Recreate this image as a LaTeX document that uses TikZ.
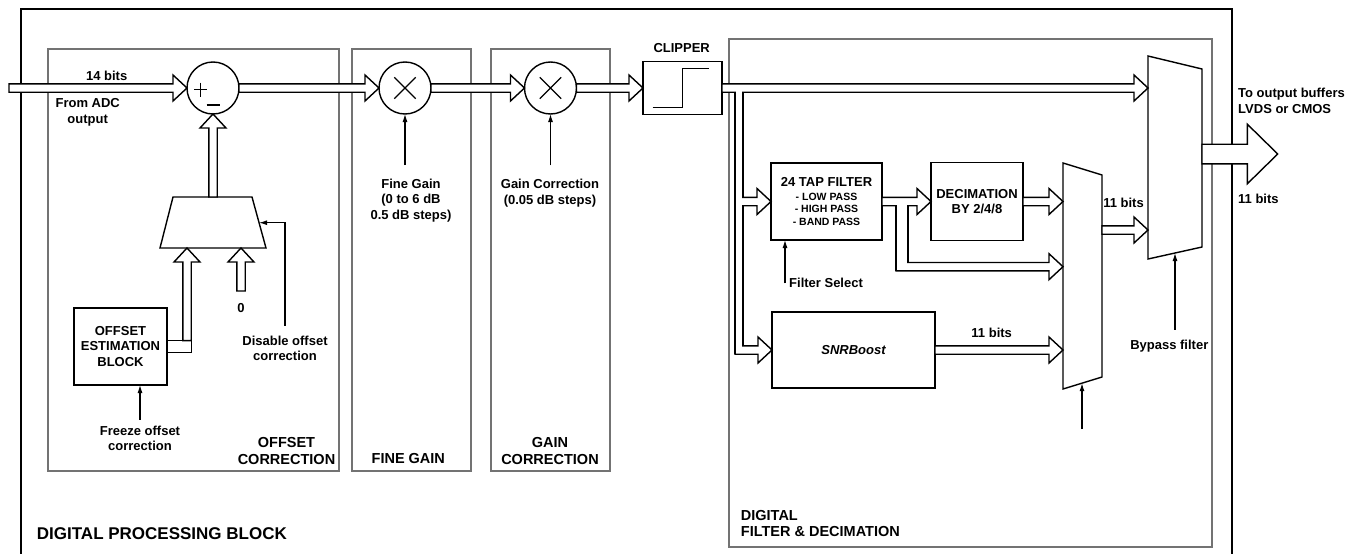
\documentclass[tikz,border=0pt]{standalone}
\usepackage{fontspec}
\setmainfont{Liberation Sans}
\usetikzlibrary{arrows.meta,calc}

\begin{document}
\begin{tikzpicture}
[x=1pt,y=-1pt,
  summerdecorate/.style={shape=circle,draw,line width=1.4pt,fill=white,minimum size=52pt,inner sep=0pt,outer sep=0pt},%
  boxdecorate/.style={shape=rectangle,draw,line width=1.4pt,fill=white,inner sep=0pt,outer sep=0pt,align=center,font=\fontsize{13}{15.5}\selectfont\bfseries},%
  sectiondecorate/.style={draw=black!55,line width=1.3pt},%
  textdecorate/.style={align=center,inner sep=3pt,font=\fontsize{13}{15.5}\selectfont\bfseries},%
  titledecorate/.style={align=center,inner sep=0pt,font=\fontsize{14.5}{17.5}\selectfont\bfseries},%
  controldecorate/.style={-{Latex[length=8pt,width=5pt]},line width=1.1pt},%
  busdecorate/.style={line width=1.4pt},%
  fatright/.style={draw,fill=white,line width=1.4pt,to path={let \p1=(\tikztostart), \p2=(\tikztotarget) in
    (\x1,\y2+4.2pt) -- (\x2-14pt,\y2+4.2pt) -- (\x2-14pt,\y2+13pt) -- (\x2,\y2)
    -- (\x2-14pt,\y2-13pt) -- (\x2-14pt,\y2-4.2pt) -- (\x1,\y2-4.2pt) -- cycle}},%
  fatup/.style={draw,fill=white,line width=1.4pt,to path={let \p1=(\tikztostart), \p2=(\tikztotarget) in
    (\x2-4.2pt,\y1) -- (\x2-4.2pt,\y2-14pt) -- (\x2-13pt,\y2-14pt) -- (\x2,\y2)
    -- (\x2+13pt,\y2-14pt) -- (\x2+4.2pt,\y2-14pt) -- (\x2+4.2pt,\y1) -- cycle}},%
  bigright/.style={draw,fill=white,line width=1.4pt,to path={let \p1=(\tikztostart), \p2=(\tikztotarget) in
    (\x1,\y2+9.8pt) -- (\x2-30.4pt,\y2+9.8pt) -- (\x2-30.4pt,\y2+29.8pt) -- (\x2,\y2)
    -- (\x2-30.4pt,\y2-29.8pt) -- (\x2-30.4pt,\y2-9.8pt) -- (\x1,\y2-9.8pt) -- cycle}}]
\useasboundingbox (0,0) rectangle (1358,554);
%% frames
\draw[line width=1.4pt] (21,554) -- (21,9) -- (1232,9) -- (1232,554);
\foreach \xa/\ya/\xb/\yb in {48/49/339/471, 352/49/471/471, 491/49/610/471, 729/39/1212/547} {
  \draw[sectiondecorate] (\xa,\ya) rectangle (\xb,\yb);
}
%% blocks
\foreach \nodename/\x in {sub/213, fg/405, gc/550.5} {
  \node (\nodename) at (\x,88) [summerdecorate] {};
}
\node (clip) at (682.5,88) [boxdecorate,minimum width=79pt,minimum height=53pt] {};
\node (est) at (120.5,346.5) [boxdecorate,minimum width=93pt,minimum height=77pt] {OFFSET\\ESTIMATION\\BLOCK};
\node (stub) at (est.east) [boxdecorate,anchor=west,minimum width=24.2pt,minimum height=11.7pt] {};
\node (tap) at (826.5,201.5) [boxdecorate,minimum width=111pt,minimum height=77pt]
  {24 TAP FILTER\\[-1.5pt]{\fontsize{10.5}{12.2}\selectfont - LOW PASS}\\[-3pt]{\fontsize{10.5}{12.2}\selectfont - HIGH PASS}\\[-3pt]{\fontsize{10.5}{12.2}\selectfont - BAND PASS}};
\node (dec) at (977,201.5) [boxdecorate,minimum width=92pt,minimum height=78pt] {DECIMATION\\BY 2/4/8};
\node (snr) at (853.5,350) [boxdecorate,minimum width=163pt,minimum height=76pt] {\itshape SNRBoost};
%% signs inside the blocks
\draw[line width=1.1pt,shift={(sub.center)}] (-18.7,1.3) -- (-5.7,1.3) (-12.7,-5.3) -- (-12.7,8.7) (-6.3,17) -- (6.7,17);
\foreach \nodename in {fg, gc} {
  \draw[line width=1.1pt,shift={(\nodename.center)}] (-10.7,-10.7) -- (10.7,10.7) (-10.7,10.7) -- (10.7,-10.7);
}
\draw[line width=1.1pt,shift={(clip.center)}] (-29.8,19.7) -- (0.2,19.7) -- (0.2,-19.7) -- (26.8,-19.7);
%% selectors
\draw[busdecorate,fill=white] (173,197) -- (252,197) -- (266,248) -- (160,248) -- cycle;
\draw[busdecorate,fill=white] (1063,163) -- (1102,175) -- (1102,377) -- (1063,389) -- cycle;
\draw[busdecorate,fill=white] (1148,56) -- (1202,69) -- (1202,247) -- (1148,259) -- cycle;
\foreach \coordname/\x/\y in {
  adcin/9/88, offout/213/197, offin1/187/248, offin2/241/248, offsel/259.1/222.7, zerotail/241/291,
  byin1/1148/88, byin2/1148/230, byout/1202/154, outtip/1277.7/154, bysel/1175/253,
  muxin1/1063/201.5, muxin2/1063/266.7, muxin3/1063/350, muxout/1102/230,
  muxsel/1082/383.2, muxseltail/1082/429, tapfork/735/201.5, snrfork/735/350, decfork/896/266.7} {
  \coordinate (\coordname) at (\x,\y);
}
%% buses
\path
\foreach \startnode/\endnode in {adcin/sub.west, sub.east/fg.west, fg.east/gc.west, gc.east/clip.west,
  clip.east/byin1, tapfork/tap.west, snrfork/snr.west, tap.east/dec.west, dec.east/muxin1,
  decfork/muxin2, snr.east/muxin3, muxout/byin2} {
  (\startnode) edge[fatright] (\endnode)
};
\path
\foreach \startnode/\endnode in {offout/sub.south, stub.north/offin1, zerotail/offin2} {
  (\startnode) edge[fatup] (\endnode)
};
\path (byout) edge[bigright] (outtip);
% open the forks
\fill[white] (735.8,90.5) rectangle (742.2,94);
\fill[white] (735.8,195.5) rectangle (742.2,207.5);
\fill[white] (735.8,344.3) rectangle (742.2,347.3);
\fill[white] (896.8,204) rectangle (907.2,207.5);
\fill[white] (896.8,261) rectangle (907.2,264);
\draw[busdecorate] (735,92.2) -- (735,354.2) (743,92.2) -- (743,197.3) (743,205.7) -- (743,345.8);
\draw[busdecorate] (896,205.7) -- (896,270.9) (908,205.7) -- (908,262.5);
%% labels
\node (bits14) at (106.7,76) [textdecorate] {14 bits};
\node (adcl) at (87.7,112.5) [textdecorate] {From ADC\\output};
\node (zerol) at (241,308.3) [textdecorate] {0};
\node (disl) at (285,348.5) [textdecorate] {Disable offset\\correction};
\node (frzl) at (140,438.5) [textdecorate] {Freeze offset\\correction};
\node (fgl) at (411,200.5) [textdecorate] {Fine Gain\\(0 to 6 dB\\0.5 dB steps)};
\node (gcl) at (550,193.3) [textdecorate] {Gain Correction\\(0.05 dB steps)};
\node (clipl) at (681.7,48.3) [textdecorate] {CLIPPER};
\node (fsel) at (785,283.3) [textdecorate,anchor=west,inner sep=4pt] {Filter Select};
\node (snrbits) at (991.7,332.7) [textdecorate] {11 bits};
\node (muxbits) at (1123.5,203.3) [textdecorate] {11 bits};
\node (bypl) at (1169.3,346) [textdecorate] {Bypass filter};
\node (outl) at (1235,100.8) [textdecorate,anchor=west,align=left] {To output buffers\\LVDS or CMOS};
\node (outbits) at (1235,199) [textdecorate,anchor=west] {11 bits};
\node (offt) at (286.5,451) [titledecorate] {OFFSET\\CORRECTION};
\node (fgt) at (408.3,459) [titledecorate] {FINE GAIN};
\node (gct) at (550,451) [titledecorate] {GAIN\\CORRECTION};
\node (dft) at (740.7,523.8) [titledecorate,anchor=west,align=left,font=\fontsize{14.5}{15.7}\selectfont\bfseries] {DIGITAL\\FILTER \& DECIMATION};
\node (dpb) at (36.7,533.3) [titledecorate,anchor=west,font=\fontsize{17}{20}\selectfont\bfseries] {DIGITAL PROCESSING BLOCK};
%% controls
\draw[controldecorate,shorten <=7pt] (disl.north) |- (offsel);
\draw[controldecorate,shorten <=3pt] (frzl.north) -- (frzl.north |- est.south);
\foreach \labelnode/\endnode/\gap in {fgl/fg/10.5, gcl/gc/11} {
  \draw[controldecorate,shorten <=\gap pt] (\endnode.south |- \labelnode.north) -- (\endnode.south);
}
\draw[controldecorate] (fsel.west) -- (fsel.west |- tap.south);
\draw[controldecorate,shorten <=7pt] (bypl.north -| bysel) -- (bysel);
\draw[controldecorate] (muxseltail) -- (muxsel);
\end{tikzpicture}
\end{document}
